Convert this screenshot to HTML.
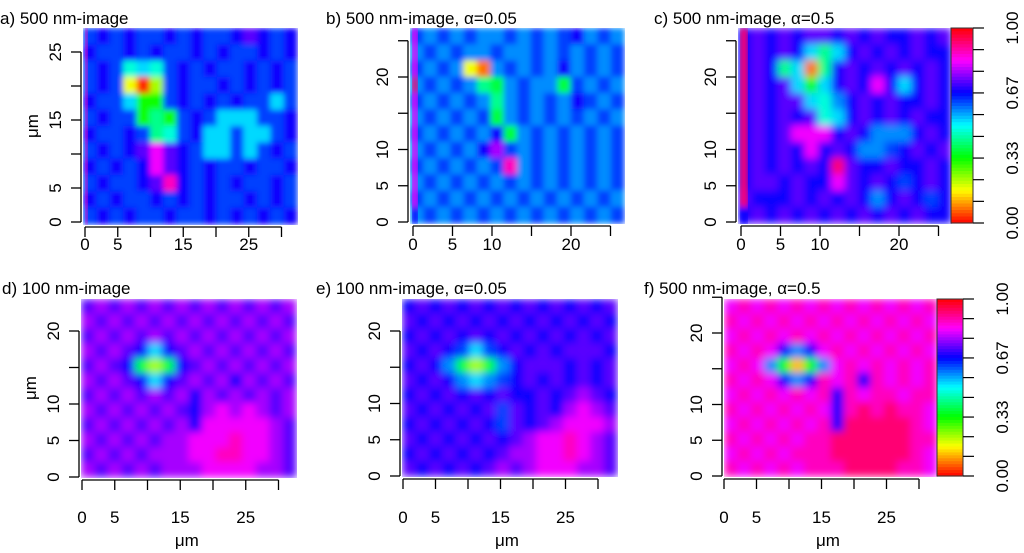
<!DOCTYPE html>
<html><head><meta charset="utf-8"><style>
html,body{margin:0;padding:0;background:#fff;}
svg{display:block;font-family:"Liberation Sans",sans-serif;}
</style></head><body>
<svg id="fig" width="1024" height="553" viewBox="0 0 1024 553" xmlns="http://www.w3.org/2000/svg">
<defs>
<filter id="b3" x="0" y="0" width="1" height="1"><feGaussianBlur stdDeviation="3" edgeMode="duplicate"/></filter>
<filter id="b4" x="0" y="0" width="1" height="1"><feGaussianBlur stdDeviation="4" edgeMode="duplicate"/></filter>
</defs>
</svg>
<script>
// heatmap grids: char index i in LEVELS => value (i+0.5)/20, rows top to bottom
const LEVELS="0123456789abcdefghij";
const gridA=["cdcdccdcdccdedcd","dccdcdccdcdccdcd","cdc9a9cdcdccdcdc","cdc304cdccdcdcdc","dcca66cdcdcdccac","cdcc686cdcaaaccd","dccdc89cdaacaacd","cdcdegedcaacacdc","dcdcdgedcdccdccd","cdccdehdcdcdccdc","dcdccdcdcdccdcdc","cdcdccdccdcdcdcd"];
const gridB=["cbcbcbbcbcbcdbcb","bcbcbbcbbcbcbcbc","cbcb31bcbcbdbcbc","bcbcb87bcbb7cbcb","cbcbcb8bcbcbdcbc","bcbcbc7bcbcbcbcb","cbcbcbd7bcbcbcbc","bcbcbdfcbcbcbcbc","cbcbcbchbcbcbcbc","bcbcbcbcbcbcbcbc","cbcbcbcbcbcbcbcb","bcbcbcbcbcbcbcbc"];
const gridC=["dededeedededdede","dededa8adedededd","ded8a18dedededed","dedea6adedgdaded","dedeea9bdededded","dedede9adedededd","dedegggdedbbbded","dededgdedbbcdede","dedededieddedded","deededdgededcded","edddedededbdedcd","dedededededededd"];
const gridD=["efefefefefefefef","fefefefefefefefe","efefefefefefefef","fefedadefefefefe","efed747defefefef","fefedadefefdfefe","efefefefdfefefef","fefefefedfgfgfef","efefefefdgggggfe","fefefeffggghggfe","efefefffgghhggfe","fefefefffggggffe"];
const gridE=["dededededededede","edededededededed","dededededededede","ededcacdededeeed","dedb747bdeeedede","ededbabcdededede","dededededdedefed","edededecededfgfe","dedededcedefgggf","ededededefgghgfe","dedededeffgghgfe","edededefefgggffe"];
const gridF=["ghghghghghghghgh","hghghghghghghghg","ghghghghghghghgh","hghgdbdghghghghg","ghgb626bghghghgh","hghgdbdhghdhghgh","ghghghghdhghhghh","hghghghgdhihihhg","ghghghghdiiiiihg","hghghghhiiiiiihh","ghghghhhiiiiiihg","hghghghhhiiiihhg"];
// left-edge strip values (one per row)
const edgeA="hhhhhhhhhhhh";
const edgeB="gggigggggggd";
const edgeC="iiiiiiiiiiid";
const xTicks=[0,5,10,15,20,25,30];
const xLabelsWide=["0","5","","15","","25",""];
const xLabelsNarrow=["0","5","10","","20","",""];
const yTicksTopA=[0,5,10,15,20,25];
const yLabelsA=["0","5","","15","","25"];
const yTicksOther=[0,5,10,15,20,25];
const yLabelsOther=["0","5","10","","20",""];
const cbTicks=[0,0.111,0.222,0.333,0.444,0.556,0.667,0.778,0.889,1];
const cbLabels=["0.00","0.33","0.67","1.00"];
const cbLabelVals=[0,0.333,0.667,1];

const svg=document.getElementById('fig');
const NS="http://www.w3.org/2000/svg";
function mk(t,a,p){const e=document.createElementNS(NS,t);for(const k in a)e.setAttribute(k,a[k]);(p||svg).appendChild(e);return e;}
function col(v){return 'hsl('+(v*360)+',100%,50%)';}
function val(ch){return (LEVELS.indexOf(ch)+0.5)/20;}

const panels=[
 {id:'a',title:'a) 500 nm-image',tx:0,ty:24,grid:gridA,edge:edgeA,ew:3,x0:83,x1:297,y0:28,y1:224,ox:85,sx:6.55,oy:222,sy:6.8,yt:yTicksTopA,yl:yLabelsA,xl:xLabelsWide,xly:250,ylab:true,xlab:false,blur:'b3'},
 {id:'b',title:'b) 500 nm-image, α=0.05',tx:326,ty:24,grid:gridB,edge:edgeB,ew:6,x0:410,x1:624,y0:28,y1:223,ox:413,sx:7.9,oy:222,sy:7.25,yt:yTicksOther,yl:yLabelsOther,xl:xLabelsNarrow,xly:250,ylab:false,xlab:false,blur:'b3'},
 {id:'c',title:'c) 500 nm-image, α=0.5',tx:654,ty:24,grid:gridC,edge:edgeC,ew:8,x0:738,x1:951,y0:28,y1:223,ox:741,sx:7.9,oy:222,sy:7.25,yt:yTicksOther,yl:yLabelsOther,xl:xLabelsNarrow,xly:250,ylab:false,xlab:false,blur:'b4',cb:{x0:951,x1:973,lx:1012}},
 {id:'d',title:'d) 100 nm-image',tx:2,ty:294,grid:gridD,x0:81,x1:296,y0:299,y1:477,ox:82,sx:6.55,oy:477,sy:7.3,yt:yTicksOther,yl:yLabelsOther,xl:xLabelsWide,xly:523,ylab:true,xlab:true,blur:'b4'},
 {id:'e',title:'e) 100 nm-image, α=0.05',tx:316,ty:294,grid:gridE,x0:402,x1:617,y0:299,y1:476,ox:403,sx:6.5,oy:476,sy:7.25,yt:yTicksOther,yl:yLabelsOther,xl:xLabelsWide,xly:523,ylab:false,xlab:true,blur:'b4'},
 {id:'f',title:'f) 500 nm-image, α=0.5',tx:644,ty:294,grid:gridF,x0:724,x1:937,y0:299,y1:476,ox:724,sx:6.5,oy:476,sy:7.15,yt:yTicksOther,yl:yLabelsOther,xl:xLabelsWide,xly:523,ylab:false,xlab:true,blur:'b4',cb:{x0:937,x1:963,lx:1002}}
];

panels.forEach(p=>{
 const g=mk('g',{});
 
 
 const t=mk('text',{x:p.tx,y:p.ty,'font-size':17,fill:'#000'},g);t.textContent=p.title;
 
 
 const hm=mk('g',{filter:'url(#'+p.blur+')'},g);
 
 
 const rows=p.grid.length,cols=p.grid[0].length;
 const cw=(p.x1-p.x0)/cols,ch=(p.y1-p.y0)/rows;
 for(let r=0;r<rows;r++)for(let c=0;c<cols;c++){
   const cell=mk('rect',{x:p.x0+c*cw,y:p.y0+r*ch,width:cw+0.6,height:ch+0.6,fill:col(val(p.grid[r][c]))},hm);
   
   
 }
 if(p.edge){
   const eg=mk('g',{filter:'url(#b3)'},g);
   
   
   for(let r=0;r<rows;r++){
     const e=mk('rect',{x:p.x0+2,y:p.y0+r*ch,width:p.ew,height:ch+0.6,fill:col(val(p.edge[r]))},eg);
     
     
   }
 }
 const ax=mk('g',{stroke:'#000','stroke-width':1.3},g);
 
 
 const xs=xTicks.filter(v=>p.ox+v*p.sx<=p.x1+2);
 const yb=p.y1+3;
 mk('line',{x1:p.ox,x2:p.ox+xs[xs.length-1]*p.sx,y1:yb,y2:yb},ax);
 xs.forEach((v,i)=>{const X=p.ox+v*p.sx;mk('line',{x1:X,x2:X,y1:yb,y2:yb+10},ax);
   if(p.xl[i]){const l=mk('text',{x:X,y:p.xly,'font-size':17,'text-anchor':'middle',stroke:'none',fill:'#000'},g);l.textContent=p.xl[i];
   
   }});
 const ay=mk('g',{stroke:'#000','stroke-width':1.3},g);
 
 
 const ys=p.yt.filter(v=>p.oy-v*p.sy>=p.y0-2);
 const xa=p.x0-2;
 mk('line',{x1:xa,x2:xa,y1:p.oy,y2:p.oy-ys[ys.length-1]*p.sy},ay);
 ys.forEach((v,i)=>{const Y=p.oy-v*p.sy;mk('line',{x1:xa-10,x2:xa,y1:Y,y2:Y},ay);
   if(p.yl[i]){const l=mk('text',{x:0,y:0,'font-size':17,'text-anchor':'middle',stroke:'none',fill:'#000',transform:'translate('+(xa-20)+','+Y+') rotate(-90)'},g);l.textContent=p.yl[i];
   
   }});
 if(p.ylab){const l=mk('text',{x:0,y:0,'font-size':17,'text-anchor':'middle',fill:'#000',transform:'translate('+(xa-43)+','+((p.y0+p.y1)/2)+') rotate(-90)'},g);l.textContent='μm';
   
   }
 if(p.xlab){const l=mk('text',{x:p.ox+16*p.sx,y:546,'font-size':17,'text-anchor':'middle',fill:'#000'},g);l.textContent='μm';
   
   }
 if(p.cb){
   const cg=mk('g',{},g);
   
   
   const n=60,h=(p.y1-p.y0)/n;
   for(let i=0;i<n;i++){const v=1-(i+0.5)/n;mk('rect',{x:p.cb.x0,y:p.y0+i*h,width:p.cb.x1-p.cb.x0,height:h+0.6,fill:col(v)},cg);}
   mk('rect',{x:p.cb.x0,y:p.y0,width:p.cb.x1-p.cb.x0,height:p.y1-p.y0,fill:'none',stroke:'#333','stroke-width':1},cg);
   cbTicks.forEach(v=>{const Y=p.y1-v*(p.y1-p.y0);mk('line',{x1:p.cb.x1,x2:p.cb.x1+11,y1:Y,y2:Y,stroke:'#000','stroke-width':1.2},cg);});
   cbLabelVals.forEach((v,i)=>{const Y=p.y1-v*(p.y1-p.y0);const l=mk('text',{x:0,y:0,'font-size':17,'text-anchor':'middle',fill:'#000',transform:'translate('+(p.cb.lx+6)+','+Y+') rotate(-90)'},cg);l.textContent=cbLabels[i];
     
     });
 }
});
</script>
</body></html>
